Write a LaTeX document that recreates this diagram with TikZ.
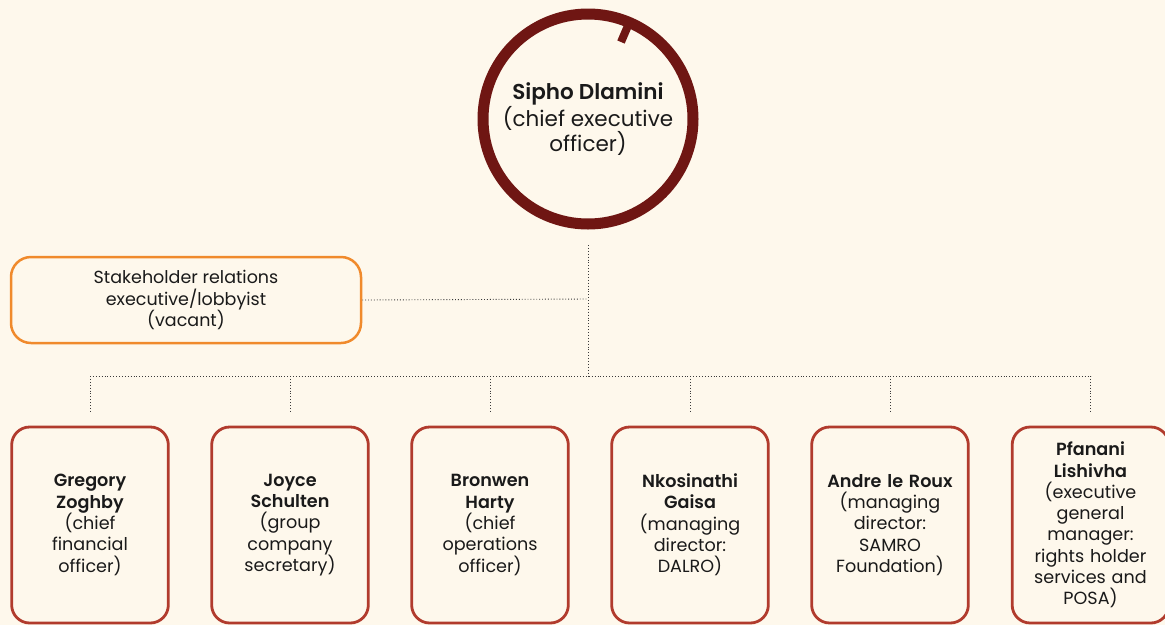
\documentclass[tikz,border=0pt]{standalone}
\usepackage{fontspec}
\setmainfont{Poppins}[BoldFont=* SemiBold]
\usetikzlibrary{calc}
\definecolor{paper}{HTML}{FEF8EC}
\definecolor{ceored}{HTML}{6F1613}
\definecolor{boxred}{HTML}{B13B2D}
\definecolor{vacant}{HTML}{F08A2C}
\definecolor{ink}{HTML}{1A1A1A}
\definecolor{dots}{HTML}{3A3A3A}
\begin{document}
\begin{tikzpicture}[x=1pt,y=-1pt,
  ceo/.style={circle,draw=ceored,line width=11pt,minimum size=210pt,inner sep=0pt,
    align=center,text=ink,font=\fontsize{21.5}{25}\selectfont},
  orangebox/.style={draw=vacant,line width=2.5pt,rounded corners=20pt,fill=paper,
    minimum width=350pt,minimum height=86pt,align=center,text=ink,
    font=\fontsize{17.5}{21.5}\selectfont},
  execbox/.style={draw=boxred,line width=2.8pt,rounded corners=18pt,fill=paper,
    minimum width=155pt,minimum height=196pt,text width=150pt,align=center,text=ink,
    font=\fontsize{17.6}{21.3}\selectfont},
  link/.style={dotted,draw=dots,line width=0.9pt}]
\fill[paper] (0,0) rectangle (1165,625);
\useasboundingbox (0,0) rectangle (1165,625);
\clip (0,0) rectangle (1165,625);

% chief executive
\node[ceo] (ceo) at (588,119) {\textbf{Sipho Dlamini}\\(chief executive\\officer)};
\coordinate (tickOut) at (630,21);
\coordinate (tickIn) at (621,42);
\draw[ceored,line width=8pt] (tickOut) -- (tickIn);

% stakeholder relations
\node[orangebox] (sr) at (186,300) {Stakeholder relations\\executive/lobbyist\\(vacant)};

% executives
\node[execbox] (e1) at (90,525) {\textbf{Gregory}\\\textbf{Zoghby}\\(chief\\financial\\officer)};
\node[execbox] (e2) at (290,525) {\textbf{Joyce}\\\textbf{Schulten}\\(group\\company\\secretary)};
\node[execbox] (e3) at (490,525) {\textbf{Bronwen}\\\textbf{Harty}\\(chief\\operations\\officer)};
\node[execbox] (e4) at (690,525) {\textbf{Nkosinathi}\\\textbf{Gaisa}\\(managing\\director:\\DALRO)};
\node[execbox] (e5) at (890,525) {\textbf{Andre le Roux}\\(managing\\director:\\SAMRO\\Foundation)};
\node[execbox] (e6) at (1090.5,525) {\textbf{Pfanani}\\\textbf{Lishivha}\\(executive\\general\\manager:\\rights holder\\services and\\POSA)};

% reporting lines
\coordinate (trunkTop) at (588,245);
\coordinate (hub) at (588,299);
\coordinate (busMid) at (588,376);
\draw[link] (trunkTop) -- (busMid);
\draw[link] (sr.east) -- (hub);
\draw[link] (e1.north |- busMid) -- (e6.north |- busMid);
\foreach \e in {e1,e2,e3,e4,e5,e6}
  \draw[link] (\e.north |- busMid) -- ($(\e.north)+(0,-12)$);
\end{tikzpicture}
\end{document}
